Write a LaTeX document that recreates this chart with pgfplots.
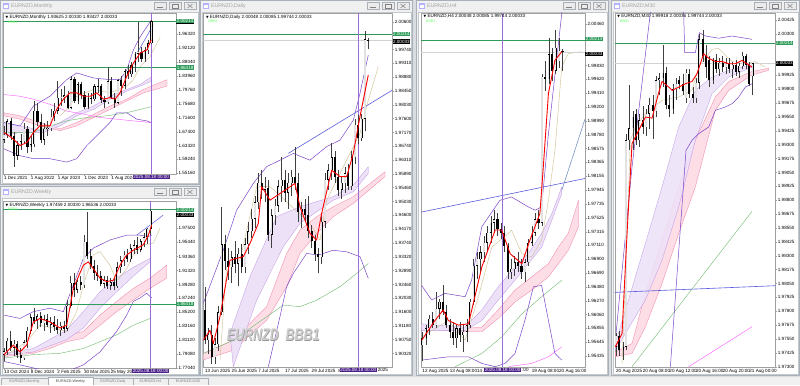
\documentclass[border=0pt]{standalone}
\usepackage{pgfplots}
\pgfplotsset{compat=1.18}
\usepackage{pgfplotstable}
\usepackage{fontspec}
\setmainfont{Liberation Sans}
\newfontfamily\dejavu{DejaVu Sans}
\definecolor{mdibg}{HTML}{D9DCE0}
\definecolor{winframe}{HTML}{F0F0F0}
\definecolor{winborder}{HTML}{A9B0B8}
\definecolor{titletext}{HTML}{A0A0A0}
\definecolor{bbpurple}{HTML}{7B44C8}
\definecolor{fanpurple}{HTML}{EDE1F8}
\definecolor{fanpurpleline}{HTML}{BE96E6}
\definecolor{fanpink}{HTML}{FDDDE6}
\definecolor{fanpinkline}{HTML}{F27FA5}
\definecolor{grn}{HTML}{6DBB6D}
\definecolor{mag}{HTML}{FF55FF}
\definecolor{khaki}{HTML}{CDBE8A}
\definecolor{tline}{HTML}{5B5BE0}
\definecolor{steel}{HTML}{7A94C2}
\definecolor{vline}{HTML}{9B6BD8}
\definecolor{hgreen}{HTML}{2E9B5A}
\definecolor{boxpurple}{HTML}{4B1F8A}
\definecolor{upfill}{HTML}{E2E2E2}
\newcommand\tf{\fontsize{4.6}{5.2}\selectfont}

\newcommand\candles[4]{%
\addplot[forget plot, draw=none, mark=none, error bars/.cd, y dir=plus, y explicit, error mark=none, error bar style={draw=black!75, line width=0.35bp}] table[x=i, y=l, y error plus expr=\thisrow{h}-\thisrow{l}] {#1};
\addplot[forget plot, draw=none, mark=none, error bars/.cd, y dir=plus, y explicit, error mark=none, error bar style={draw=black, line width=#3}] table[x=i, y expr={min(\thisrow{o},\thisrow{c})}, y error plus expr={max(abs(\thisrow{c}-\thisrow{o}),#2)}] {#1};
\addplot[forget plot, draw=none, mark=none, error bars/.cd, y dir=plus, y explicit, error mark=none, error bar style={draw=upfill, line width=#4}] table[x=i, y expr={min(\thisrow{o},\thisrow{c})+#2}, y error plus expr={(\thisrow{c}>\thisrow{o})*max(\thisrow{c}-\thisrow{o}-2*#2,0)}] {#1};
}
\newcommand\plab[4]{\node[anchor=west, fill=#3, text=white, font=\tf, inner xsep=0.6bp, inner ysep=0.5bp, #4] at ({rel axis cs:1,0}|-{axis cs:0,#1}) {#2};}
\newcommand\chead[2]{\node[anchor=north west, font=\tf, inner sep=0] at (rel axis cs:0,1) [xshift=2.5bp, yshift=-1.8bp] {{\dejavu\fontsize{3.4}{4}\selectfont ▼}\ #1};
\node[anchor=north west, font=\fontsize{3.6}{4}\selectfont, text=green!60!white, inner sep=0] at (rel axis cs:0,1) [xshift=5bp, yshift=-7.5bp] {#2};}
\newcommand\datebox[2]{\node[fill=boxpurple, text=white, font=\tf, inner xsep=0.8bp, inner ysep=0.5bp, anchor=north] (db) at ({axis cs:#1,#2}|-{rel axis cs:0,0}) [yshift=-0.6bp] {2025.08.18 00:00};}

\newcommand\win[5]{%
\fill[winframe, draw=winborder, line width=0.5bp] (#1+0.5,-#2-0.5) rectangle (#3-0.5,-#4+0.5);
\fill[white, draw=winborder!70, line width=0.3bp] (#1+2,-#2-12) rectangle (#3-2,-#4+2);
\fill[blue!30!white] (#1+3,-#2-3) rectangle (#1+9,-#2-9);
\fill[white] (#1+4,-#2-4.5) rectangle (#1+8,-#2-8);
\node[anchor=west, font=\fontsize{5.2}{6}\selectfont, text=titletext, inner sep=0] at (#1+11,-#2-6.3) {#5};
\foreach \bx in {46,31,16} {\fill[white!92!black, draw=winborder, line width=0.4bp] (#3-\bx,-#2-2.5) rectangle (#3-\bx+12,-#2-9.5);}
\draw[gray, line width=0.5bp] (#3-43,-#2-7) -- (#3-37,-#2-7);
\draw[gray, line width=0.4bp] (#3-28,-#2-4.5) rectangle (#3-22,-#2-8);
\draw[gray, line width=0.5bp] (#3-12.5,-#2-4) -- (#3-7.5,-#2-8) (#3-12.5,-#2-8) -- (#3-7.5,-#2-4);
}

\pgfplotsset{mt/.style={scale only axis, anchor=north west, axis line style={gray!75, line width=0.4bp}, tick style={gray!75, line width=0.3bp}, major tick length=1.6bp, tick align=outside, xtick pos=bottom, ytick pos=right, yticklabel pos=right, tick label style={font=\tf}, yticklabel style={anchor=west, inner sep=0.5bp, xshift=0.3bp}, xticklabel style={anchor=north west, inner sep=0.5bp, xshift=-0.6bp}, clip mode=individual, axis background/.style={fill=white}, scaled y ticks=false, line join=round}}

% ---------------- data ----------------
\pgfplotstableread{
i o h l c
0 1.650 1.690 1.640 1.665
1 1.665 1.712 1.655 1.705
2 1.705 1.715 1.650 1.660
3 1.660 1.672 1.570 1.603
4 1.603 1.645 1.590 1.634
5 1.634 1.668 1.620 1.645
6 1.645 1.700 1.640 1.682
7 1.682 1.690 1.610 1.628
8 1.628 1.660 1.615 1.637
9 1.637 1.765 1.630 1.736
10 1.736 1.760 1.690 1.704
11 1.704 1.725 1.640 1.650
12 1.650 1.700 1.635 1.682
13 1.682 1.705 1.660 1.685
14 1.685 1.740 1.675 1.718
15 1.718 1.760 1.705 1.736
16 1.736 1.825 1.725 1.774
17 1.774 1.800 1.750 1.777
18 1.777 1.810 1.760 1.782
19 1.782 1.795 1.740 1.745
20 1.745 1.840 1.740 1.829
21 1.829 1.835 1.760 1.764
22 1.764 1.820 1.755 1.814
23 1.814 1.820 1.770 1.784
24 1.784 1.795 1.740 1.747
25 1.747 1.790 1.740 1.775
26 1.775 1.790 1.755 1.771
27 1.771 1.815 1.765 1.808
28 1.808 1.830 1.790 1.808
29 1.808 1.815 1.760 1.769
30 1.769 1.780 1.745 1.761
31 1.761 1.865 1.755 1.823
32 1.823 1.835 1.770 1.775
33 1.775 1.790 1.745 1.760
34 1.760 1.830 1.755 1.826
35 1.826 1.840 1.780 1.810
36 1.810 1.860 1.800 1.853
37 1.853 1.870 1.830 1.845
38 1.845 1.880 1.835 1.870
39 1.870 1.910 1.850 1.905
40 1.905 1.998 1.880 1.911
41 1.911 1.925 1.880 1.889
42 1.889 1.925 1.880 1.915
43 1.915 1.945 1.905 1.93625
44 1.93625 2.00330 1.93427 2.00033
}\monthly
\pgfplotstableread{
i o h l c
0 1.790 1.800 1.780 1.795
1 1.795 1.815 1.790 1.810
2 1.810 1.825 1.795 1.800
3 1.800 1.812 1.788 1.806
4 1.806 1.810 1.785 1.790
5 1.790 1.800 1.778 1.785
6 1.785 1.812 1.782 1.808
7 1.808 1.830 1.800 1.825
8 1.825 1.850 1.820 1.845
9 1.845 1.858 1.835 1.840
10 1.840 1.850 1.828 1.846
11 1.846 1.852 1.830 1.836
12 1.836 1.848 1.825 1.842
13 1.842 1.850 1.830 1.834
14 1.834 1.845 1.822 1.838
15 1.838 1.846 1.825 1.830
16 1.830 1.842 1.820 1.826
17 1.826 1.838 1.818 1.832
18 1.832 1.840 1.822 1.828
19 1.828 1.870 1.825 1.862
20 1.862 1.905 1.858 1.895
21 1.895 1.910 1.875 1.885
22 1.885 1.900 1.880 1.897
23 1.897 1.905 1.885 1.892
24 1.892 1.965 1.888 1.955
25 1.955 1.999 1.930 1.935
26 1.935 1.945 1.915 1.920
27 1.920 1.928 1.900 1.910
28 1.910 1.922 1.898 1.905
29 1.905 1.912 1.890 1.894
30 1.894 1.905 1.888 1.899
31 1.899 1.905 1.886 1.891
32 1.891 1.902 1.885 1.896
33 1.896 1.904 1.884 1.890
34 1.890 1.925 1.888 1.918
35 1.918 1.935 1.910 1.928
36 1.928 1.942 1.920 1.936
37 1.936 1.945 1.925 1.930
38 1.930 1.952 1.926 1.946
39 1.946 1.958 1.938 1.950
40 1.950 1.962 1.938 1.944
41 1.944 1.960 1.940 1.956
42 1.956 1.968 1.948 1.962
43 1.962 1.976 1.952 1.97459
44 1.97459 2.00330 1.96536 2.00033
}\weekly
\pgfplotstableread{
i o h l c
0 1.9166 1.9239 1.9060 1.9073
1 1.9073 1.9110 1.9030 1.9090
2 1.9090 1.9120 1.9000 1.9020
3 1.9020 1.9080 1.9000 1.9060
4 1.9060 1.9180 1.9040 1.9160
5 1.9160 1.9487 1.9150 1.9370
6 1.9370 1.9400 1.9290 1.9320
7 1.9320 1.9360 1.9260 1.9300
8 1.9300 1.9350 1.9250 1.9330
9 1.9330 1.9380 1.9280 1.9310
10 1.9310 1.9360 1.9240 1.9340
11 1.9340 1.9370 1.9280 1.9300
12 1.9300 1.9390 1.9280 1.9370
13 1.9370 1.9440 1.9340 1.9410
14 1.9410 1.9480 1.9390 1.9450
15 1.9450 1.9520 1.9420 1.9500
16 1.9500 1.9590 1.9480 1.9560
17 1.9560 1.9600 1.9510 1.9540
18 1.9540 1.9580 1.9500 1.9545
19 1.9545 1.9570 1.9380 1.9400
20 1.9400 1.9480 1.9360 1.9460
21 1.9460 1.9510 1.9430 1.9490
22 1.9490 1.9570 1.9470 1.9550
23 1.9550 1.9642 1.9500 1.9570
24 1.9570 1.9600 1.9500 1.9530
25 1.9530 1.9590 1.9480 1.9560
26 1.9560 1.9600 1.9520 1.9580
27 1.9580 1.9673 1.9540 1.9560
28 1.9560 1.9590 1.9440 1.9470
29 1.9470 1.9500 1.9420 1.9480
30 1.9480 1.9510 1.9440 1.9460
31 1.9460 1.9520 1.9390 1.9410
32 1.9410 1.9430 1.9360 1.9380
33 1.9380 1.9400 1.9320 1.9340
34 1.9340 1.9360 1.9280 1.9330
35 1.9330 1.9460 1.9310 1.9440
36 1.9440 1.9590 1.9420 1.9570
37 1.9570 1.9620 1.9540 1.9600
38 1.9600 1.9683 1.9570 1.9640
39 1.9640 1.9660 1.9560 1.9580
40 1.9580 1.9600 1.9520 1.9540
41 1.9540 1.9580 1.9510 1.9560
42 1.9560 1.9610 1.9530 1.9590
43 1.9590 1.9620 1.9540 1.9550
44 1.9550 1.9660 1.9540 1.9640
45 1.9640 1.9760 1.9620 1.9740
46 1.9740 1.9770 1.9680 1.9700
47 1.9700 1.9775 1.9690 1.9760
48 1.9760 2.0032 1.9720 2.0005
49 2.00048 2.00085 1.99744 2.00033
}\daily
\pgfplotstableread{
i o h l c
0 1.9560 1.9580 1.9535 1.9570
1 1.9570 1.9590 1.9560 1.9585
2 1.9585 1.9605 1.9575 1.9600
3 1.9600 1.9610 1.9585 1.9590
4 1.9590 1.9640 1.9585 1.9615
5 1.9615 1.9630 1.9600 1.9625
6 1.9625 1.9650 1.9605 1.9610
7 1.9610 1.9620 1.9585 1.9590
8 1.9590 1.9600 1.9570 1.9580
9 1.9580 1.9595 1.9560 1.9570
10 1.9570 1.9590 1.9555 1.9585
11 1.9585 1.9595 1.9565 1.9575
12 1.9575 1.9590 1.9550 1.9580
13 1.9580 1.9600 1.9565 1.9590
14 1.9590 1.9630 1.9585 1.9625
15 1.9625 1.9690 1.9620 1.9680
16 1.9680 1.9700 1.9660 1.9690
17 1.9690 1.9710 1.9670 1.9700
18 1.9700 1.9725 1.9685 1.9715
19 1.9715 1.9740 1.9700 1.9730
20 1.9730 1.9755 1.9715 1.9745
21 1.9745 1.9765 1.9730 1.9750
22 1.9750 1.9760 1.9725 1.9735
23 1.9735 1.9745 1.9720 1.9730
24 1.9730 1.9740 1.9700 1.9710
25 1.9710 1.9715 1.9660 1.9670
26 1.9670 1.9690 1.9660 1.9675
27 1.9675 1.9695 1.9665 1.9685
28 1.9685 1.9700 1.9670 1.9680
29 1.9680 1.9690 1.9660 1.9670
30 1.9670 1.9690 1.9655 1.9685
31 1.9685 1.9720 1.9680 1.9715
32 1.9715 1.9740 1.9710 1.9730
33 1.9730 1.9760 1.9725 1.9750
34 1.9750 1.9765 1.9735 1.9745
35 1.9745 1.9970 1.9740 1.9966
36 1.9966 1.9990 1.9945 1.9962
37 1.9962 2.0024 1.9955 2.0000
38 2.0000 2.0010 1.9960 1.9975
39 1.9975 2.0037 1.9970 2.0010
40 1.9990 2.0025 1.9980 2.0005
41 2.00048 2.00085 1.99744 2.00033
}\hfour
\pgfplotstableread{
i o h l c
0 1.9748 1.9760 1.9740 1.9758
1 1.9758 1.9762 1.9740 1.9745
2 1.9745 1.9752 1.9736 1.9748
3 1.9748 1.9940 1.9745 1.9934
4 1.9934 1.9984 1.9925 1.9945
5 1.9945 1.9960 1.9925 1.9955
6 1.9958 1.9962 1.9930 1.9934
7 1.9934 1.9958 1.9928 1.9952
8 1.9952 1.9965 1.9940 1.9946
9 1.9946 1.9962 1.9938 1.9958
10 1.9958 1.9972 1.9944 1.9966
11 1.9966 1.9975 1.9935 1.9960
12 1.9960 1.9992 1.9955 1.9988
13 1.9988 1.9995 1.9975 1.9990
14 1.9990 2.0020 1.9982 1.9995
15 1.9995 2.0000 1.9962 1.9966
16 1.9966 1.9975 1.9955 1.9962
17 1.9962 1.9985 1.9958 1.9980
18 1.9980 1.9990 1.9970 1.9985
19 1.9988 1.9992 1.9980 1.9985
20 1.9985 1.9994 1.9975 1.9978
21 1.9972 1.9998 1.9968 1.9995
22 1.9994 1.9998 1.9972 1.9976
23 1.9976 1.9982 1.9968 1.9972
24 1.9972 1.9990 1.9968 1.9986
25 1.9986 2.0030 1.9980 2.0025
26 2.0025 2.0033 2.0005 2.0010
27 2.0010 2.0020 1.9990 2.0000
28 2.0006 2.0010 1.9982 1.9988
29 1.9988 2.0008 1.9985 2.0006
30 2.0006 2.0012 1.9995 1.9998
31 1.9998 2.0008 1.9992 2.0004
32 2.0004 2.0010 1.9996 2.0000
33 2.0000 2.0008 1.9994 2.0003
34 2.0003 2.0008 1.9995 1.9998
35 1.9998 2.0005 1.9990 2.0002
36 2.0002 2.0006 1.9992 1.9996
37 1.9996 2.0004 1.9990 2.0001
38 2.0001 2.0014 1.9998 2.0010
39 2.0010 2.0012 1.9998 2.0002
40 2.0002 2.0005 1.9983 1.9985
41 1.99918 2.00036 1.99744 2.00033
}\mthirty

\begin{document}
\begin{tikzpicture}[x=1bp,y=1bp]
\useasboundingbox (0,0) rectangle (800,-385);
\fill[mdibg] (0,0) rectangle (800,-385);
\win{0}{0}{200}{185}{EURNZD,Monthly}
\win{0}{186}{200}{376}{EURNZD,Weekly}
\win{200}{0}{413}{376}{EURNZD,Daily}
\win{416}{0}{609}{376}{EURNZD,H4}
\win{611}{0}{800}{376}{EURNZD,M30}
% tab bar
\fill[winframe] (0,-376.5) rectangle (800,-385);
\foreach \ta/\tb/\tn in {1/48/Monthly,93/133/Daily,133/168/H4,168/208/M30}{
 \draw[winborder, line width=0.4bp] (\ta,-385) -- (\ta,-378) -- (\tb,-378) -- (\tb,-385);
 \node[font=\fontsize{3.8}{4}\selectfont, text=gray, inner sep=0] at ({(\ta+\tb)/2},-381.8) {EURNZD,\tn};}
\fill[white, draw=winborder, line width=0.4bp] (48,-385) -- (48,-377) -- (93,-377) -- (93,-385);
\node[font=\fontsize{3.8}{4}\selectfont, text=black!70, inner sep=0] at (70.5,-381.5) {EURNZD,Weekly};

% ============ MONTHLY ============
\begin{axis}[mt, at={(3bp,-13bp)}, width=173bp, height=161bp,
 xmin=-0.3, xmax=51.3, ymin=1.5487, ymax=2.0254,
 xtick={0,8,16,24,32}, xticklabels={1 Dec 2021,1 Aug 2022,1 Apr 2023,1 Dec 2023,1 Aug 2024},
 ytick={1.5516,1.5924,1.6332,1.6740,1.7160,1.7568,1.7976,1.8396,1.8804,1.9212,1.9632},
 yticklabels={1.55160,1.59240,1.63320,1.67400,1.71600,1.75680,1.79760,1.83960,1.88040,1.92120,1.96320}]
\addplot[fill=fanpink, draw=fanpinkline, line width=0.3bp] coordinates {(0,1.730)(4.8,1.721)(10.7,1.701)(16.7,1.682)(21.7,1.701)(26.7,1.725)(31.6,1.750)(36.6,1.770)(41.6,1.799)(48.6,1.828)(48.6,1.809)(41.6,1.789)(36.6,1.765)(31.6,1.740)(26.7,1.716)(21.7,1.691)(16.7,1.677)(10.7,1.691)(4.8,1.711)(0,1.721)} -- cycle;
\addplot[fill=fanpurple, draw=fanpurpleline, line width=0.3bp] coordinates {(0,1.701)(4.8,1.691)(11.7,1.677)(16.7,1.701)(21.7,1.730)(26.7,1.750)(31.6,1.779)(36.6,1.799)(40.6,1.814)(43.9,1.836)(43.9,1.823)(40.6,1.809)(36.6,1.794)(31.6,1.770)(26.7,1.740)(21.7,1.721)(16.7,1.691)(11.7,1.672)(4.8,1.672)(0,1.662)} -- cycle;
\addplot[grn, line width=0.4bp] coordinates {(0,1.672)(8.8,1.672)(13.7,1.691)(18.7,1.706)(24.7,1.716)(30.6,1.721)(36.6,1.730)(40.6,1.740)(43.9,1.748)};
\addplot[mag, line width=0.4bp] coordinates {(0,1.784)(4.8,1.779)(8.8,1.770)(13.7,1.755)(18.7,1.735)(23.7,1.726)(28.7,1.716)(33.6,1.711)(38.6,1.706)(43.9,1.701)};
\addplot[khaki, line width=0.4bp] coordinates {(16.7,1.721)(18.7,1.740)(21.7,1.779)(26.7,1.799)(31.6,1.789)(36.6,1.809)(38.6,1.828)(40.6,1.867)(43.6,1.897)(46.6,1.955)};
\addplot[bbpurple, line width=0.5bp] coordinates {(0,1.701)(4.8,1.691)(8.8,1.750)(13.7,1.779)(18.7,1.828)(21.7,1.848)(26.7,1.833)(31.6,1.828)(34.6,1.828)(36.6,1.857)(38.6,1.916)(40.6,1.955)(43.9,2.004)};
\addplot[bbpurple, line width=0.5bp] coordinates {(0,1.623)(4.8,1.603)(8.8,1.594)(13.7,1.594)(18.7,1.584)(21.7,1.594)(24.7,1.633)(28.7,1.672)(31.6,1.701)(33.6,1.730)(36.6,1.730)(39.6,1.711)(42.6,1.706)(43.9,1.701)};
\addplot[tline, line width=0.5bp] coordinates {(39.6,1.905)(44.5,1.990)};
\addplot[hgreen, line width=0.7bp] coordinates {(-0.3,2.00214)(51.3,2.00214)};
\addplot[hgreen, line width=0.7bp] coordinates {(-0.3,1.86418)(51.3,1.86418)};
\addplot[vline, line width=0.5bp] coordinates {(43.9,1.5487)(43.9,2.0254)};
\candles{\monthly}{0.0012}{2.2bp}{1.3bp}
\addplot[red, line width=0.9bp] coordinates {(0,1.672)(2.8,1.652)(4.8,1.633)(6.8,1.642)(8.8,1.672)(10.7,1.691)(13.7,1.691)(15.7,1.740)(17.7,1.770)(19.7,1.789)(21.7,1.789)(23.7,1.779)(25.7,1.779)(27.7,1.789)(29.7,1.770)(31.6,1.775)(33.1,1.770)(34.6,1.789)(36.6,1.838)(38.6,1.877)(40.6,1.907)(42.6,1.916)(43.9,1.946)};
\chead{EURNZD,Monthly 1.93625 2.00330 1.93427 2.00033}{BBB1}
\plab{2.00033}{2.00033}{black}{}
\plab{2.00214}{2.00214}{hgreen}{}
\plab{1.86418}{1.86418}{hgreen}{}
\datebox{43.9}{1.8}
\end{axis}

% ============ WEEKLY ============
\begin{axis}[mt, at={(3bp,-200.7bp)}, width=173bp, height=167.6bp,
 xmin=-0.3, xmax=51.6, ymin=1.7700, ymax=2.0155,
 xtick={0,8,16,24,32}, xticklabels={13 Oct 2024,8 Dec 2024,2 Feb 2025,30 Mar 2025,25 May 2025},
 ytick={1.7704,1.7908,1.8112,1.8316,1.8520,1.8724,1.8928,1.9132,1.9336,1.9544,1.9750},
 yticklabels={1.77040,1.79080,1.81120,1.83160,1.85200,1.87240,1.89280,1.91320,1.93360,1.95440,1.97500}]
\addplot[fill=fanpink, draw=fanpinkline, line width=0.3bp] coordinates {(0,1.790)(8.8,1.794)(13.8,1.809)(18.8,1.818)(23.8,1.824)(28.8,1.848)(33.8,1.868)(38.8,1.887)(43.8,1.902)(48.8,1.921)(48.8,1.902)(43.8,1.887)(38.8,1.870)(33.8,1.853)(28.8,1.833)(23.8,1.814)(18.8,1.809)(13.8,1.799)(8.8,1.792)(0,1.787)} -- cycle;
\addplot[fill=fanpurple, draw=fanpurpleline, line width=0.3bp] coordinates {(0,1.792)(8.8,1.799)(18.8,1.826)(23.8,1.853)(28.8,1.882)(33.8,1.902)(38.8,1.918)(43.8,1.931)(43.8,1.926)(38.8,1.905)(33.8,1.882)(28.8,1.858)(23.8,1.829)(18.8,1.812)(8.8,1.794)(0,1.7896)} -- cycle;
\addplot[grn, line width=0.4bp] coordinates {(0,1.785)(8.8,1.790)(16.8,1.792)(23.8,1.799)(28.8,1.809)(33.8,1.819)(38.8,1.833)(43.8,1.843)};
\addplot[khaki, line width=0.4bp] coordinates {(0,1.787)(6.8,1.809)(10.8,1.833)(14.8,1.829)(18.8,1.824)(21.8,1.853)(23.8,1.892)(26.8,1.936)(28.8,1.941)(31.8,1.921)(33.8,1.897)(36.8,1.916)(38.8,1.936)(41.8,1.951)(44.8,1.953)(46.8,1.975)};
\addplot[bbpurple, line width=0.5bp] coordinates {(0,1.848)(4.8,1.843)(8.8,1.853)(13.8,1.858)(17.8,1.853)(20.8,1.892)(23.8,1.931)(26.8,1.946)(31.8,1.958)(36.8,1.965)(40.8,1.965)(43.3,1.963)(44.3,1.965)};
\addplot[bbpurple, line width=0.5bp] coordinates {(0,1.780)(4.8,1.775)(13.8,1.765)(18.8,1.765)(23.8,1.775)(28.8,1.794)(33.8,1.824)(36.8,1.848)(38.8,1.868)(40.8,1.873)(42.8,1.880)(44.3,1.873)};
\addplot[tline, line width=0.5bp] coordinates {(39.8,1.965)(47.8,1.9945)};
\addplot[hgreen, line width=0.7bp] coordinates {(-0.3,2.00214)(51.6,2.00214)};
\addplot[hgreen, line width=0.7bp] coordinates {(-0.3,1.86418)(51.6,1.86418)};
\addplot[vline, line width=0.5bp] coordinates {(44,1.7700)(44,2.0155)};
\candles{\weekly}{0.0006}{2.2bp}{1.3bp}
\addplot[red, line width=0.9bp] coordinates {(0,1.790)(2.8,1.804)(4.8,1.794)(6.8,1.804)(8.8,1.838)(10.8,1.843)(13.8,1.838)(16.8,1.829)(18.8,1.833)(20.8,1.887)(23.8,1.921)(25.3,1.926)(26.8,1.916)(28.8,1.902)(30.8,1.897)(32.8,1.899)(34.8,1.921)(36.8,1.936)(38.8,1.943)(41.8,1.951)(43.3,1.965)(44.3,1.980)};
\chead{EURNZD,Weekly 1.97459 2.00330 1.96536 2.00033}{BBB1}
\plab{2.00033}{2.00033}{black}{yshift=-4.2bp}
\plab{2.00214}{2.00214}{hgreen}{}
\plab{1.86418}{1.86418}{hgreen}{}
\datebox{44}{1.9}
\end{axis}

% ============ DAILY ============
\begin{axis}[mt, at={(203.3bp,-12.7bp)}, width=189bp, height=354bp,
 xmin=-0.5, xmax=56.2, ymin=1.8991, ymax=2.0088,
 xtick={0,8,16,24,32,40}, xticklabels={13 Jun 2025,25 Jun 2025,7 Jul 2025,17 Jul 2025,29 Jul 2025,8},
 ytick={1.8989,1.9032,1.9075,1.9118,1.9160,1.9203,1.9246,1.9289,1.9332,1.9374,1.9417,1.9460,1.9503,1.9546,1.9589,1.9631,1.9674,1.9717,1.9760,1.9803,1.9845,1.9888,1.9931,1.9974,2.0060},
 yticklabels={1.89890,1.90320,1.90750,1.91180,1.91600,1.92030,1.92460,1.92890,1.93320,1.93740,1.94170,1.94600,1.95030,1.95460,1.95890,1.96310,1.96740,1.97170,1.97600,1.98030,1.98450,1.98880,1.99310,1.99740,2.00600}]
\addplot[fill=fanpink, draw=fanpinkline, line width=0.3bp] coordinates {(-0.5,1.9032)(8.5,1.9073)(18.5,1.9177)(24.5,1.9342)(28.5,1.9414)(33.5,1.9456)(38.5,1.9487)(44.5,1.9518)(54,1.9595)(54,1.9580)(44.5,1.9497)(38.5,1.9456)(33.5,1.9404)(28.5,1.9342)(24.5,1.9239)(18.5,1.9135)(8.5,1.9042)(-0.5,1.9012)} -- cycle;
\addplot[fill=fanpurple, draw=fanpurpleline, line width=0.3bp] coordinates {(7.5,1.9094)(13.5,1.9270)(21.5,1.9456)(28.5,1.9487)(38.5,1.9518)(44.5,1.9554)(49,1.9611)(49,1.9590)(44.5,1.9533)(38.5,1.9507)(28.5,1.9435)(23.5,1.9363)(15.5,1.9197)(8.5,1.8991)} -- cycle;
\addplot[grn, line width=0.4bp] coordinates {(-0.5,1.9032)(8.5,1.9073)(18.5,1.9146)(23.5,1.9182)(28.5,1.9177)(33.5,1.9197)(40.5,1.9239)(45.5,1.9280)(49,1.9311)};
\addplot[khaki, line width=0.4bp] coordinates {(4.5,1.9012)(6.5,1.9301)(10.5,1.9321)(15.5,1.9549)(19.5,1.9549)(24,1.9507)(31.5,1.9435)(34.5,1.9383)(36.5,1.9507)(40.5,1.9590)(46.5,1.9714)(49,1.9817)(52,1.9921)};
\addplot[bbpurple, line width=0.5bp] coordinates {(-0.5,1.9187)(5.5,1.9352)(9.5,1.9476)(14.5,1.9559)(18.5,1.9611)(22.5,1.9631)(26.5,1.9652)(31.5,1.9631)(36.5,1.9673)(40.5,1.9693)(44.5,1.9755)(46.5,1.9838)(49,1.9957)};
\addplot[bbpurple, line width=0.5bp] coordinates {(19,1.8991)(22.5,1.9146)(24.5,1.9239)(26.5,1.9280)(30.5,1.9342)(34,1.9337)(38.5,1.9352)(42.5,1.9347)(46.5,1.9332)(49,1.9265)};
\addplot[tline, line width=0.6bp] coordinates {(25,1.9652)(56.2,1.9848)};
\addplot[gray!35, line width=0.5bp] coordinates {(-0.5,2.00033)(56.2,2.00033)};
\addplot[hgreen, line width=0.7bp] coordinates {(-0.5,2.00214)(56.2,2.00214)};
\addplot[vline, line width=0.5bp] coordinates {(46,1.8991)(46,2.0088)};
\candles{\daily}{0.00012}{2.2bp}{1.3bp}
\addplot[red, line width=0.9bp] coordinates {(-0.5,1.9073)(1.5,1.9104)(2.5,1.9063)(4.5,1.9146)(7.5,1.9321)(11.5,1.9332)(13.5,1.9373)(16,1.9435)(17,1.9549)(19.5,1.9507)(24,1.9538)(27,1.9559)(28.5,1.9487)(31.5,1.9404)(33.5,1.9383)(35,1.9466)(38,1.9600)(40.5,1.9580)(42.5,1.9580)(44.5,1.9652)(46.5,1.9766)(49,1.9895)};
\node[font=\bfseries\itshape\fontsize{12.5}{13}\selectfont, text=gray!80, yscale=1.35, inner sep=0] at (axis cs:20.65,1.9087) {EURNZD\ \ BBB1};
\node[font=\bfseries\itshape\fontsize{12.5}{13}\selectfont, text=gray!40, yscale=1.35, inner sep=0] at (axis cs:20.5,1.9090) {EURNZD\ \ BBB1};
\chead{EURNZD,Daily 2.00048 2.00085 1.99744 2.00033}{BBB1}
\plab{2.00033}{2.00033}{black}{yshift=-1.5bp}
\plab{2.00214}{2.00214}{hgreen}{yshift=0.5bp}
\datebox{46}{1.95}
\node[font=\tf, anchor=west, inner sep=0.5bp] at (db.east) {2025};
\end{axis}

% ============ H4 ============
\begin{axis}[mt, at={(421bp,-12.7bp)}, width=164bp, height=354bp,
 xmin=-0.4, xmax=47.6, ymin=1.9527, ymax=2.0063,
 xtick={0,8,16,32,40}, xticklabels={12 Aug 2025,13 Aug 08:00,14 Au,19 Aug 08:00,20 Aug 16:00},
 ytick={1.95225,1.95435,1.95645,1.95855,1.96060,1.96270,1.96480,1.96690,1.96900,1.97110,1.97315,1.97525,1.97735,1.97945,1.98155,1.98365,1.98575,1.98780,1.98990,1.99200,1.99410,1.99620,1.99830,2.00460},
 yticklabels={1.95225,1.95435,1.95645,1.95855,1.96060,1.96270,1.96480,1.96690,1.96900,1.97110,1.97315,1.97525,1.97735,1.97945,1.98155,1.98365,1.98575,1.98780,1.98990,1.99200,1.99410,1.99620,1.99830,2.00460}]
\addplot[fill=fanpink, draw=fanpinkline, line width=0.3bp] coordinates {(-0.2,1.9590)(12.5,1.9585)(17.4,1.9587)(22.2,1.9613)(27.1,1.9643)(32,1.9663)(36.9,1.9683)(39.8,1.9708)(42.7,1.9729)(45.7,1.9779)(45.7,1.9739)(42.7,1.9703)(39.8,1.9683)(36.9,1.9663)(32,1.9643)(27.1,1.9625)(22.2,1.9600)(17.4,1.9580)(12.5,1.9580)(-0.2,1.9585)} -- cycle;
\addplot[fill=fanpurple, draw=fanpurpleline, line width=0.3bp] coordinates {(-0.2,1.9592)(12.5,1.9587)(17.4,1.9613)(22.2,1.9648)(27.1,1.9678)(31,1.9698)(34.9,1.9729)(37.9,1.9759)(40.8,1.9799)(40.8,1.9789)(37.9,1.9749)(34.9,1.9708)(31,1.9683)(27.1,1.9658)(22.2,1.9628)(17.4,1.9597)(12.5,1.9582)(-0.2,1.9582)} -- cycle;
\addplot[grn, line width=0.4bp] coordinates {(9.6,1.9527)(17.4,1.9547)(23.2,1.9572)(29.1,1.9607)(34.9,1.9633)(40.8,1.9658)};
\addplot[mag, line width=0.4bp] coordinates {(25.2,1.9527)(32,1.9532)(36.9,1.9542)(40.8,1.9557)};
\addplot[khaki, line width=0.4bp] coordinates {(-0.2,1.9572)(7.6,1.9597)(12.5,1.9567)(16.4,1.9633)(20.3,1.9708)(25.2,1.9729)(26.1,1.9734)(29.1,1.9698)(32,1.9693)(34.9,1.9719)(36.9,1.9779)(38.8,1.9855)(40.8,1.9981)(42.7,2.0001)(46.6,2.0004)};
\addplot[bbpurple, line width=0.5bp] coordinates {(-0.2,1.9650)(2.7,1.9628)(6.6,1.9638)(12.5,1.9633)(14.4,1.9658)(17.4,1.9739)(22.7,1.9779)(26.1,1.9784)(31,1.9769)(33,1.9764)(34.9,1.9769)(36.9,1.9880)(40.8,2.0062)(41.5,2.0090)};
\addplot[bbpurple, line width=0.5bp] coordinates {(-0.2,1.9537)(7.6,1.9542)(13.5,1.9542)(17.4,1.9532)(21.3,1.9527)(24.2,1.9532)(27.1,1.9547)(30,1.9597)(32.5,1.9648)(34.9,1.9650)(36.9,1.9597)(38.8,1.9547)(40.8,1.9537)};
\addplot[tline, line width=0.6bp] coordinates {(-0.4,1.9761)(47.6,1.9812)};
\addplot[steel, line width=0.6bp] coordinates {(40.8,1.9794)(47.6,1.9902)};
\addplot[gray!35, line width=0.5bp] coordinates {(-0.4,2.00033)(47.6,2.00033)};
\addplot[hgreen, line width=0.7bp] coordinates {(-0.4,2.00214)(47.6,2.00214)};
\addplot[vline, line width=0.5bp] coordinates {(23.5,1.9527)(23.5,2.0063)};
\candles{\hfour}{0.00006}{2.2bp}{1.3bp}
\addplot[red, line width=0.9bp] coordinates {(-0.2,1.9567)(3.7,1.9597)(6.1,1.9613)(7.6,1.9597)(10.5,1.9590)(13.5,1.9592)(17.4,1.9678)(21.3,1.9734)(23.2,1.9734)(25.7,1.9698)(29.1,1.9683)(31.5,1.9719)(34.4,1.9759)(35.4,1.9830)(36.9,1.9941)(38.8,1.9991)(40.8,2.0004)};
\chead{EURNZD,H4 2.00048 2.00085 1.99744 2.00033}{BBB1}
\plab{2.00033}{2.00033}{black}{yshift=-1.5bp}
\plab{2.00214}{2.00214}{hgreen}{yshift=1bp}
\datebox{23.5}{1.98}
\node[font=\tf, anchor=west, inner sep=0.5bp] at (db.east) {:00};
\end{axis}

% ============ M30 ============
\begin{axis}[mt, at={(614.7bp,-12.7bp)}, width=160.6bp, height=354bp,
 xmin=-0.4, xmax=47.8, ymin=1.9730, ymax=2.0049,
 xtick={0,8,16,24,32,40}, xticklabels={20 Aug 2025,20 Aug 08:00,20 Aug 12:00,20 Aug 16:00,20 Aug 20:00,21 Aug 00:00},
 ytick={1.97300,1.97425,1.97550,1.97675,1.97800,1.97925,1.98050,1.98175,1.98300,1.98425,1.98550,1.98675,1.98800,1.98925,1.99050,1.99175,1.99300,1.99425,1.99550,1.99675,1.99800,1.99925,2.00300,2.00425},
 yticklabels={1.97300,1.97425,1.97550,1.97675,1.97800,1.97925,1.98050,1.98175,1.98300,1.98425,1.98550,1.98675,1.98800,1.98925,1.99050,1.99175,1.99300,1.99425,1.99550,1.99675,1.99800,1.99925,2.00300,2.00425}]
\addplot[fill=fanpink, draw=fanpinkline, line width=0.3bp] coordinates {(-0.2,1.9743)(4.8,1.9751)(8.8,1.9796)(13.8,1.9844)(18.8,1.9892)(23.8,1.9934)(29.8,1.9973)(33.8,1.9987)(40.8,1.9996)(45.8,1.9999)(45.8,1.9997)(40.8,1.9993)(33.8,1.9979)(29.8,1.9961)(23.8,1.9892)(18.8,1.9850)(13.8,1.9805)(8.8,1.9766)(4.8,1.9742)(-0.2,1.9739)} -- cycle;
\addplot[fill=fanpurple, draw=fanpurpleline, line width=0.3bp, fill opacity=0.85] coordinates {(-0.2,1.9751)(8.8,1.9841)(13.8,1.9892)(18.8,1.9946)(23.8,1.9979)(28.8,1.9991)(33.8,1.9997)(40.8,2.0002)(40.8,2.0000)(33.8,1.9991)(28.8,1.9976)(23.8,1.9934)(18.8,1.9874)(13.8,1.9826)(8.8,1.9790)(-0.2,1.9745)} -- cycle;
\addplot[grn, line width=0.4bp] coordinates {(4.8,1.9730)(40.8,1.9870)};
\addplot[mag, line width=0.4bp] coordinates {(21.8,1.9730)(40.8,1.9766)};
\addplot[khaki, line width=0.4bp] coordinates {(1.8,1.9733)(3.3,1.9850)(4.3,1.9934)(5.8,1.9946)(8.8,1.9958)(13.8,1.9970)(18.8,1.9973)(22.8,1.9979)(24.8,2.0000)(28.8,2.0016)(30.8,2.0017)(34.8,2.0005)(38.8,2.0003)(41.8,2.0005)(44.8,2.0000)};
\addplot[bbpurple, line width=0.5bp] coordinates {(0,1.9760)(4.8,1.9910)(10.3,2.0049)(11,2.0070)(20,2.0070)(20.3,2.0049)(20.6,2.0013)(23.8,2.0013)(25,2.0031)(26.8,2.0028)(30.8,2.0026)(34.8,2.0028)(38.8,2.0026)(40.8,2.0025)};
\addplot[bbpurple, line width=0.5bp] coordinates {(16,1.9720)(16.3,1.9730)(21,1.9925)(22.8,1.9934)(24.8,1.9940)(27.8,1.9946)(29.8,1.9961)(32.8,1.9964)(34.8,1.9967)(36.8,1.9973)(38.8,1.9982)(40.8,1.9985)};
\addplot[tline, line width=0.6bp] coordinates {(-0.4,1.9797)(47.8,1.9803)};
\addplot[gray!35, line width=0.5bp] coordinates {(-0.4,2.00033)(47.8,2.00033)};
\addplot[hgreen, line width=0.7bp] coordinates {(-0.4,2.00214)(47.8,2.00214)};
\candles{\mthirty}{0.000036}{2.2bp}{1.3bp}
\addplot[red, line width=0.9bp] coordinates {(-0.2,1.9748)(1.8,1.9760)(3.3,1.9850)(4.8,1.9931)(6.8,1.9943)(8.8,1.9955)(10.8,1.9954)(12.8,1.9977)(13.8,1.9987)(15.8,1.9982)(16.8,1.9979)(18.8,1.9982)(20.8,1.9985)(22.8,1.9987)(24.3,1.9994)(26.3,2.0012)(27.8,2.0008)(29.8,2.0005)(31.8,2.0005)(33.8,2.0003)(35.8,2.0003)(37.8,2.0006)(39.3,2.0003)(40.8,2.0000)};
\chead{EURNZD,M30 1.99918 2.00036 1.99744 2.00033}{BBB1}
\plab{2.00033}{2.00033}{black}{}
\plab{2.00214}{2.00214}{hgreen}{}
\end{axis}
\end{tikzpicture}
\end{document}
